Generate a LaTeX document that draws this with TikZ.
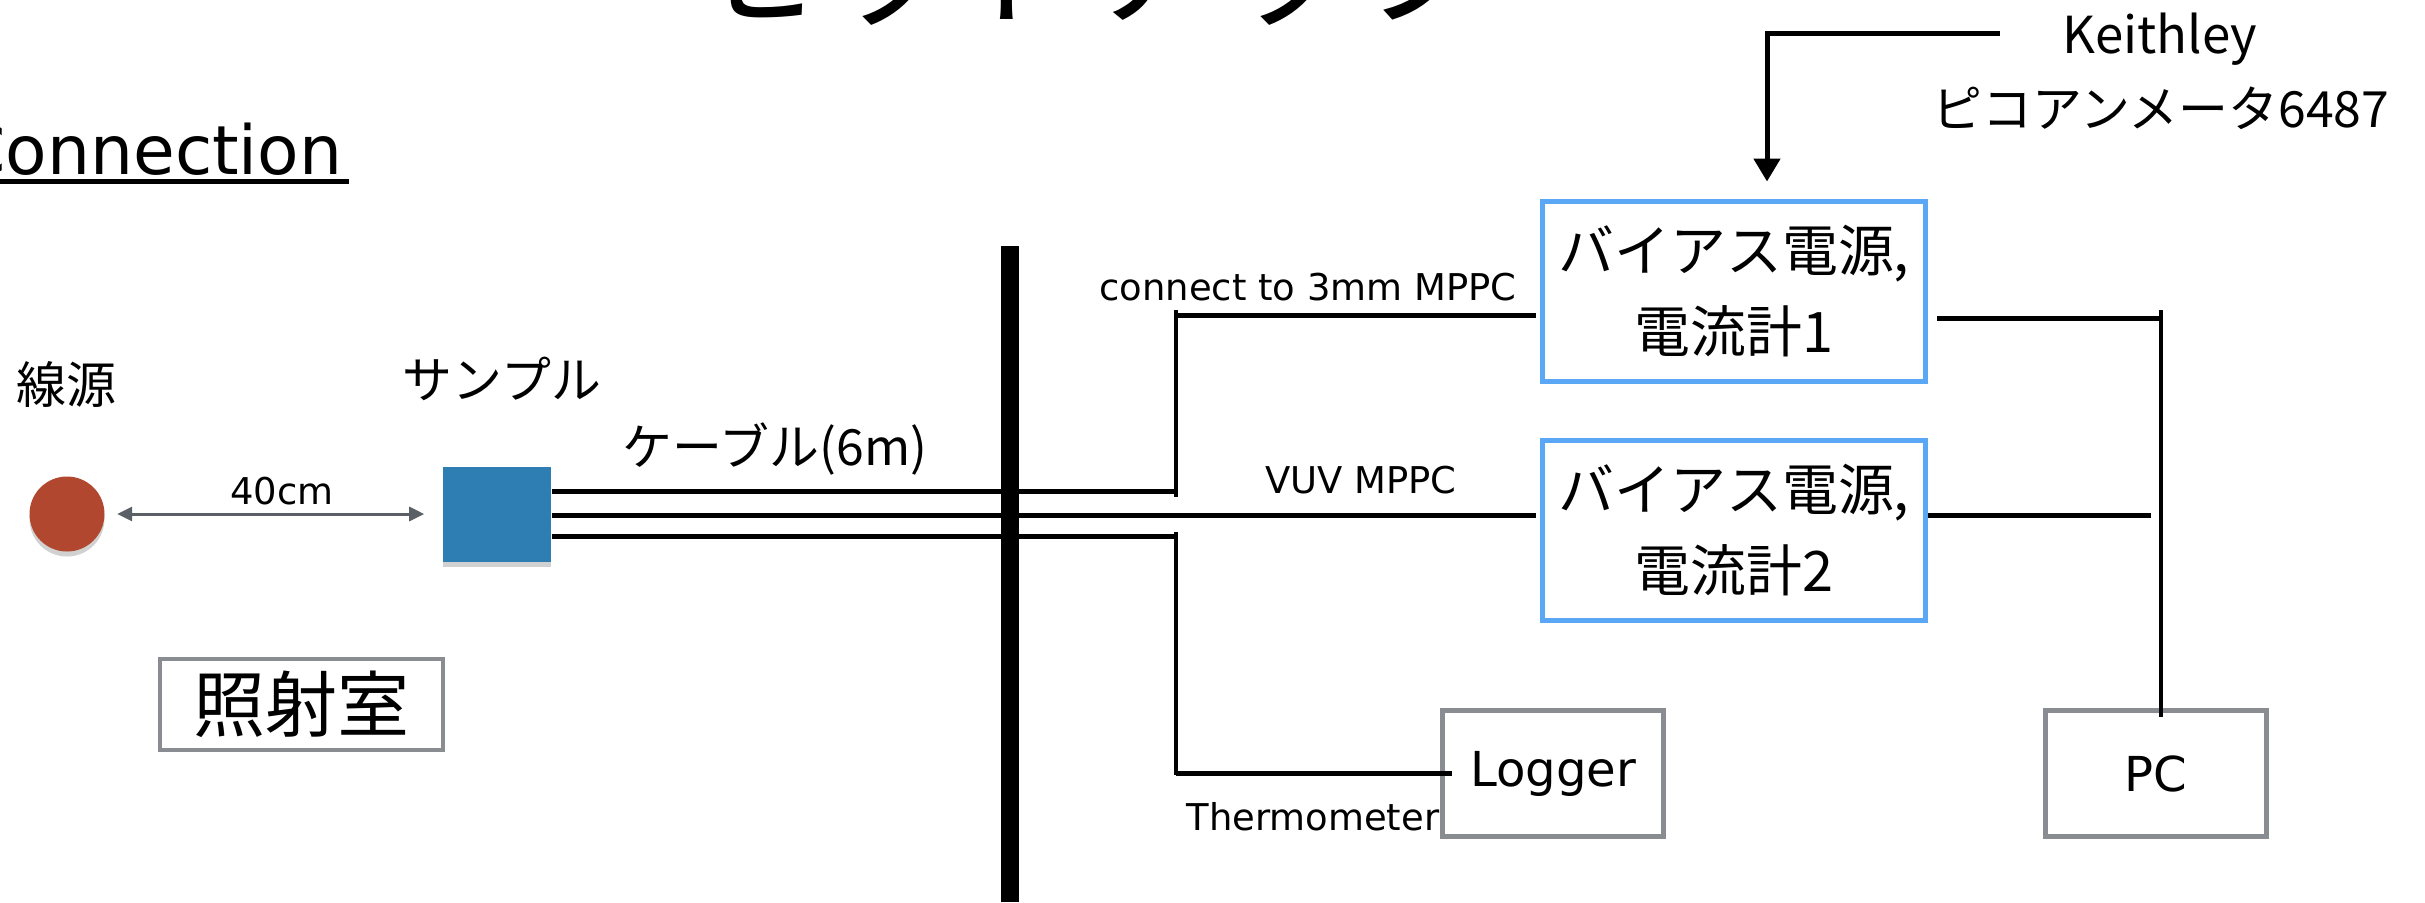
\documentclass[tikz,border=0pt]{standalone}
\usepackage{fontspec}
\setmainfont{DejaVu Sans}
\newfontfamily\jp{Noto Sans CJK JP}
\usepackage{tikz}
\usetikzlibrary{arrows.meta,positioning,shadows}
\definecolor{biasblue}{RGB}{90,168,245}
\definecolor{boxgray}{RGB}{137,140,145}
\definecolor{srcred}{RGB}{177,71,47}
\definecolor{smpblue}{RGB}{46,125,179}
\definecolor{dimgray}{RGB}{90,96,102}

\begin{document}
\begin{tikzpicture}[x=0.1mm, y=-0.1mm,
        bias/.style={draw=biasblue, line width=0.5mm, minimum width=38.3mm, minimum height=18mm, align=center, inner sep=0pt, font=\jp\fontsize{15.9}{23.3}\selectfont},
        dev/.style={draw=boxgray, line width=0.5mm, minimum width=22.1mm, minimum height=12.6mm, font=\fontsize{13.7}{16}\selectfont},
        cable/.style={line width=0.5mm},
        wire/.style={line width=0.4mm},
        lbl/.style={inner sep=0pt, font=\fontsize{10.5}{12}\selectfont},
        jlbl/.style={inner sep=0pt, font=\jp\fontsize{14.2}{17}\selectfont},
        shade/.style={drop shadow={shadow xshift=0mm, shadow yshift=-0.5mm, opacity=0.18, fill=black}}]
        \useasboundingbox (0,0) rectangle (2425,902);

        \node (T) [anchor=base, inner sep=0pt, font=\jp\fontsize{37.8}{40}\selectfont] at (1089,15) {セットアップ};
        \node (Con) [anchor=base east, inner sep=0pt, font=\fontsize{19.3}{23}\selectfont] at (343,174) {Connection};
        \draw[line width=0.5mm] ([yshift=-0.75mm]Con.base west) -- ([xshift=0.6mm, yshift=-0.75mm]Con.base east);

        \node (Src) [circle, fill=srcred, minimum size=7.5mm, inner sep=0pt, shade] at (67,514) {};
        \node (Smp) [fill=smpblue, minimum width=10.8mm, minimum height=9.5mm, inner sep=0pt, right=33.7mm of Src, shade] {};
        \node (SrcL) [jlbl] at (66,384) {線源};
        \node (SmpL) [jlbl] at (502,379) {サンプル};
        \node (Cab) [jlbl] at (775,449) {ケーブル(6m)};
        \node (Room) [draw=boxgray, line width=0.4mm, minimum width=28.3mm, minimum height=9.1mm, inner sep=0pt, font=\jp\fontsize{20.5}{24}\selectfont] at (301.5,704.5) {照射室};

        \draw[{Triangle[length=1.5mm,width=1.4mm]}-{Triangle[length=1.5mm,width=1.4mm]}, draw=dimgray, line width=0.3mm] ([xshift=1.2mm]Src.east) -- node[lbl, above=0.7mm, xshift=1.1mm] {40cm} ([xshift=-1.8mm]Smp.west);

        \node (B1) [bias] at (1734,291) {バイアス電源,\\電流計1};
        \node (B2) [bias, below=5.4mm of B1] {バイアス電源,\\電流計2};
        \node (Log) [dev] at (1553,773.5) {Logger};
        \node (PC) [dev, right=37.7mm of Log] {PC};

        \node (Kei) [anchor=base, inner sep=0pt, font=\jp\fontsize{14.5}{17}\selectfont] at (2160,53) {Keithley};
        \node (Pico) [anchor=base, inner sep=0pt, font=\jp\fontsize{14.2}{17}\selectfont] at (2161,127) {ピコアンメータ6487};
        \coordinate (K0) at (2000,33);
        \draw[-{Triangle[length=2.3mm,width=2.6mm]}, line width=0.5mm] (K0) -| ([xshift=3.3mm, yshift=1.7mm]B1.north);

        \coordinate (J1) at (1176,491);
        \coordinate (J2) at (1176,315);
        \coordinate (J3) at (1176,536);
        \coordinate (J4) at (1176,773);
        \coordinate (Ym) at (0,515);
        \draw[cable] (Smp.east |- J1) -- (J1);
        \draw[cable] (Smp.east |- Ym) -- ([xshift=-0.4mm]B2.west |- Ym);
        \draw[cable] (Smp.east |- J3) -- (J3);
        \draw[wire] ([yshift=0.5mm]J2) -- ([yshift=-0.6mm]J1);
        \draw[cable] (J2) -- ([xshift=-0.4mm]B1.west |- J2);
        \draw[wire] ([yshift=0.4mm]J3) -- ([yshift=-0.2mm]J4);
        \draw[cable] (J4) -- ([xshift=1.2mm]Log.west |- J4);
        \draw[line width=1.8mm] (1010,246) -- (1010,902);

        \node (L1) [lbl, anchor=base] at (1308,300) {connect to 3mm MPPC};
        \node (L2) [lbl, anchor=base] at (1361,493) {VUV MPPC};
        \node (L3) [lbl, anchor=base east] at (Log.west |- 0,830) {Thermometer};

        \coordinate (R1) at (2161,310);
        \coordinate (R2) at (2163,318);
        \coordinate (R3) at (2151,515);
        \draw[cable] ([xshift=0.9mm]B1.east |- R2) -- (R2);
        \draw[cable] (B2.east |- R3) -- (R3);
        \draw[wire] (R1) -- ([yshift=-0.9mm]R1 |- PC.north);
    \end{tikzpicture}
\end{document}
